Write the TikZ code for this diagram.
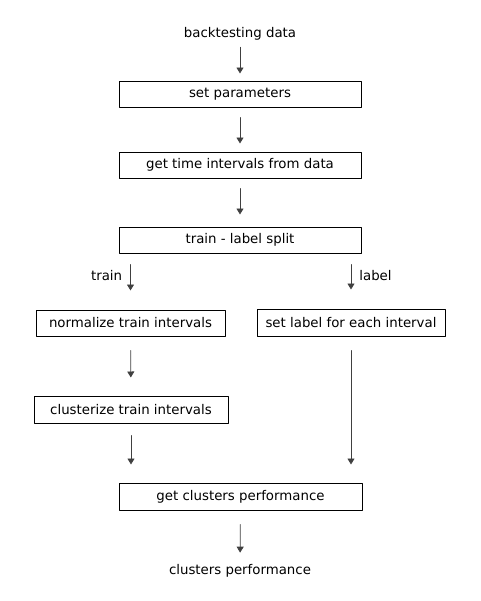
\documentclass[tikz,border=0pt]{standalone}
\usepackage{fontspec}
\setmainfont{DejaVu Sans}
\usetikzlibrary{arrows.meta}

\begin{document}
\begin{tikzpicture}[x=0.75pt,y=-0.75pt, line cap=round,line join=round,
    stepbox/.style={draw=black, line width=0.75pt, inner sep=0pt, minimum height=19.5pt},
    flow/.style={draw=black!75, line width=0.6pt, -{Triangle[length=4.5pt,width=5.25pt]}}]
	\useasboundingbox (0,0) rectangle (480,601);
	% boxes
	\node (src) at (240,33.5) {backtesting data};
	\node[stepbox, minimum width=181.5pt] (par) at (240,94) {set parameters};
	\node[stepbox, minimum width=181.5pt] (ivl) at (240,165) {get time intervals from data};
	\node[stepbox, minimum width=181.5pt] (split) at (240,240) {train - label split};
	\node[stepbox, minimum width=141.75pt] (norm) at (130.5,323) {normalize train intervals};
	\node[stepbox, minimum width=141pt, minimum height=20.25pt] (lbl) at (351,322.5) {set label for each interval};
	\node[stepbox, minimum width=145.5pt, minimum height=20.25pt] (clus) at (131,409.5) {clusterize train intervals};
	\node[stepbox, minimum width=182.25pt, minimum height=20.25pt] (perf) at (240.5,496.5) {get clusters performance};
	\node (out) at (240,570.5) {clusters performance};
	% arrows
	\draw[flow, shorten <=2pt, shorten >=5.25pt] (src) -- (par);
	\draw[flow, shorten <=7.5pt, shorten >=6pt] (par) -- (ivl);
	\draw[flow, shorten <=7.5pt, shorten >=9pt] (ivl) -- (split);
	\draw[flow, shorten <=8.25pt, shorten >=14.25pt] (split.south -| norm.north) -- (norm.north)
	    node[pos=0.4, left=6pt, inner sep=0pt] {train};
	\draw[flow, shorten <=8.25pt, shorten >=14.25pt] (split.south -| lbl.north) -- (lbl.north)
	    node[pos=0.4, right=6pt, inner sep=0pt] {label};
	\draw[flow, shorten <=10.5pt, shorten >=13.5pt] (norm) -- (clus);
	\draw[flow, shorten <=9pt, shorten >=13.5pt] (clus.south) -- (clus.south |- perf.north);
	\draw[flow, shorten <=10.5pt, shorten >=13.5pt] (lbl.south) -- (lbl.south |- perf.north);
	\draw[flow, shorten <=10.5pt, shorten >=5pt] (perf) -- (out);
\end{tikzpicture}
\end{document}
